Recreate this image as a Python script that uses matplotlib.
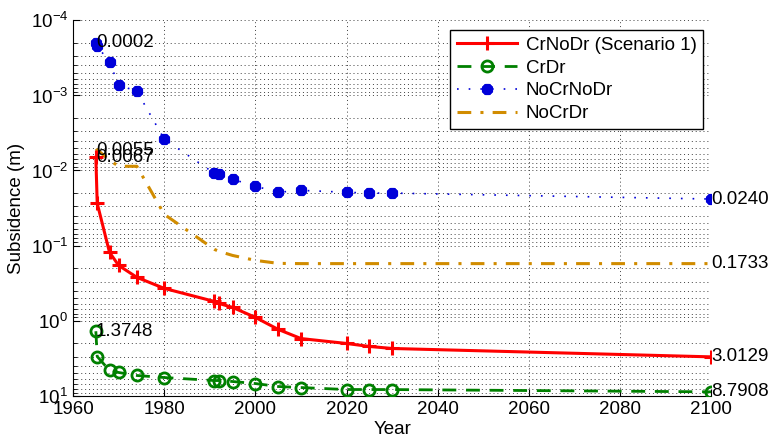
import matplotlib
matplotlib.use("Agg")
import matplotlib.pyplot as plt
import numpy as np

years = [1965, 1965.3, 1968, 1970, 1974, 1980, 1991, 1992, 1995, 2000, 2005, 2010, 2020, 2025, 2030, 2100]
cr_no_dr = [0.0067, 0.0274, 0.123, 0.183, 0.264, 0.37, 0.552, 0.587, 0.663, 0.90, 1.30, 1.72, 2.0, 2.19, 2.33, 3.0129]
cr_dr = [1.3748, 2.98, 4.57, 4.86, 5.33, 5.67, 6.22, 6.22, 6.41, 6.82, 7.47, 7.71, 8.19, 8.19, 8.2, 8.7908]
no_cr_no_dr = [0.0002, 0.000222, 0.000362, 0.000735, 0.000882, 0.00384, 0.0109, 0.0112, 0.0131, 0.0162, 0.0195, 0.0184, 0.0195, 0.0200, 0.0200, 0.0240]
no_cr_dr = [0.0055, 0.0053, 0.0073, 0.0088, 0.0088, 0.0383, 0.112, 0.119, 0.135, 0.157, 0.172, 0.1733, 0.1733, 0.1733, 0.1733, 0.1733]
series_names = ["CrNoDr (Scenario 1)", "CrDr", "NoCrNoDr", "NoCrDr"]
start_labels = ["0.0067", "1.3748", "0.0002", "0.0055"]
end_labels = ["3.0129", "8.7908", "0.0240", "0.1733"]

plt.rcParams['font.family'] = ['Liberation Sans', 'DejaVu Sans']
plt.rcParams['mathtext.fontset'] = 'custom'
plt.rcParams['mathtext.rm'] = 'Liberation Sans'

fig = plt.figure(figsize=(7.69, 4.46), dpi=100)
ax = fig.add_axes([0.095, 0.112, 0.83, 0.843])

fs = 13.5
ax.plot(years, cr_no_dr, color=(1, 0, 0), lw=2.2, ls='-', marker='+', ms=10, mew=2.2,
        label=series_names[0], zorder=4)
ax.plot(years, cr_dr, color=(0, 0.5, 0), lw=2, ls=(0, (5, 3.5)), marker='o', ms=8, mew=2,
        mfc='none', label=series_names[1], zorder=4)
ax.plot(years, no_cr_no_dr, color=(0, 0, 0.85), lw=1.2, ls=(0, (1, 6)), marker=(8, 2, 0), ms=8, mew=3,
        label=series_names[2], zorder=4)
ax.plot(years, no_cr_dr, color=(0.82, 0.55, 0.0), lw=2.2, ls=(0, (4.5, 3, 1, 3)),
        label=series_names[3], zorder=3)

data = [cr_no_dr, cr_dr, no_cr_no_dr, no_cr_dr]
for d, sl, el in zip(data, start_labels, end_labels):
    ax.text(years[0], d[0], sl, fontsize=fs, ha='left', va='center', zorder=5)
    ax.text(years[-1], d[-1], el, fontsize=fs, ha='left', va='center', zorder=5)

ax.set_yscale('log')
ax.set_ylim(10, 1e-4)
ax.set_xlim(1960, 2100)
ax.set_xticks(np.arange(1960, 2101, 20))
ax.set_yticks([1e-4, 1e-3, 1e-2, 1e-1, 1e0, 1e1])
ax.set_yticklabels([r'$10^{-4}$', r'$10^{-3}$', r'$10^{-2}$', r'$10^{-1}$', r'$10^{0}$', r'$10^{1}$'])

ax.grid(True, which='major', axis='both', ls=(0, (1, 3)), color='0.25', lw=0.7)
ax.grid(True, which='minor', axis='y', ls=(0, (1, 3)), color='0.25', lw=0.7)
ax.tick_params(which='both', direction='in', labelsize=fs)
ax.tick_params(which='major', length=5)
ax.tick_params(which='minor', length=3)
ax.spines['top'].set_visible(False)
ax.spines['right'].set_visible(False)

ax.set_xlabel('Year', fontsize=fs, labelpad=2)
ax.set_ylabel('Subsidence (m)', fontsize=fs, labelpad=4)

leg = ax.legend(loc='upper right', bbox_to_anchor=(0.9875, 0.973), borderaxespad=0,
                fontsize=fs, frameon=True, fancybox=False, edgecolor='black', framealpha=1,
                handlelength=3.2, borderpad=0.35, labelspacing=0.3, handletextpad=0.5)
leg.get_frame().set_linewidth(1.0)

fig.savefig('out.png', dpi=100)
